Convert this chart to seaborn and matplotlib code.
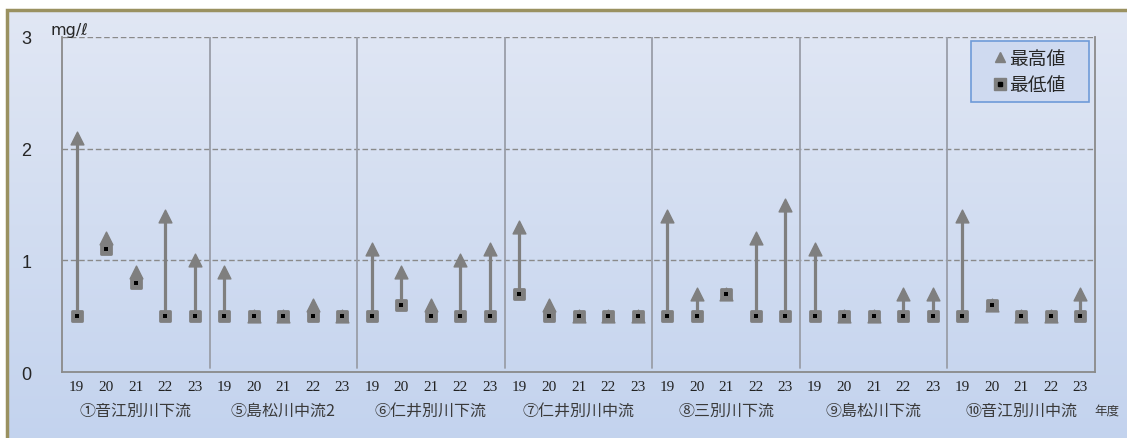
import numpy as np
import pandas as pd
import seaborn as sns
import matplotlib.pyplot as plt
from matplotlib.lines import Line2D
from matplotlib.markers import MarkerStyle
from matplotlib.patches import Rectangle

# data (mg/l)
groups = ['①音江別川下流', '⑤島松川中流2', '⑥仁井別川下流', '⑦仁井別川中流',
          '⑧三別川下流', '⑨島松川下流', '⑩音江別川中流']
years = ['19', '20', '21', '22', '23']
max_vals = [2.1, 1.2, 0.9, 1.4, 1.0,
            0.9, 0.5, 0.5, 0.6, 0.5,
            1.1, 0.9, 0.6, 1.0, 1.1,
            1.3, 0.6, 0.5, 0.5, 0.5,
            1.4, 0.7, 0.7, 1.2, 1.5,
            1.1, 0.5, 0.5, 0.7, 0.7,
            1.4, 0.6, 0.5, 0.5, 0.7]
min_vals = [0.5, 1.1, 0.8, 0.5, 0.5,
            0.5, 0.5, 0.5, 0.5, 0.5,
            0.5, 0.6, 0.5, 0.5, 0.5,
            0.7, 0.5, 0.5, 0.5, 0.5,
            0.5, 0.5, 0.7, 0.5, 0.5,
            0.5, 0.5, 0.5, 0.5, 0.5,
            0.5, 0.6, 0.5, 0.5, 0.5]

df = pd.DataFrame({
    'group': np.repeat(groups, len(years)),
    'year': years * len(groups),
    'max': max_vals,
    'min': min_vals,
})
df['pos'] = np.arange(len(df))

sns.set_style('white')
plt.rcParams['font.family'] = ['Noto Sans CJK JP', 'DejaVu Sans']

W, H = 1127, 439
fig = plt.figure(figsize=(W / 100, H / 100), dpi=100)

# gradient background inside the olive frame
bg = fig.add_axes([0, 0, 1, 1], zorder=-10)
grad = np.linspace(0, 1, 256).reshape(-1, 1)
top_c = np.array([0.882, 0.906, 0.957])
bot_c = np.array([0.765, 0.827, 0.933])
img = top_c + (bot_c - top_c) * grad[..., None]
fx0, fy1 = 7 / W, 1 - 11 / H
bg.imshow(img, extent=[fx0, 1.01, -0.01, fy1], aspect='auto', origin='upper')
bg.set_xlim(0, 1)
bg.set_ylim(0, 1)
bg.axis('off')
bg.add_patch(Rectangle((fx0, -0.05), 1.2, fy1 + 0.05, fill=False,
                       edgecolor='#9a9160', linewidth=2.5))

ax = fig.add_axes([62 / W, 1 - 373 / H, (1095 - 62) / W, (373 - 38) / H])
ax.set_facecolor('none')

grey = '#7f7f7f'
sq = MarkerStyle('s', joinstyle='round')
ax.vlines(df['pos'], df['min'], df['max'], color=grey, linewidth=2.3, zorder=2)
sns.scatterplot(data=df, x='pos', y='min', marker=sq, s=62, color=grey,
                edgecolor=grey, linewidth=2, ax=ax, zorder=3, legend=False)
sns.scatterplot(data=df, x='pos', y='min', marker='s', s=5, color='black',
                edgecolor='black', linewidth=0, ax=ax, zorder=5, legend=False)
sns.scatterplot(data=df, x='pos', y='max', marker='^', s=85, color=grey,
                edgecolor=grey, linewidth=1, ax=ax, zorder=4, legend=False)

ax.set_xlim(-0.5, len(df) - 0.5)
ax.set_ylim(0, 3)
ax.set_yticks([0, 1, 2, 3])
ax.set_yticks([0.5, 1.5, 2.5], minor=True)
ax.set_yticklabels(['0', '1', '2', '3'], fontsize=13, family='Liberation Sans')
ax.tick_params(axis='y', which='both', direction='in', length=5, color='#888888', pad=22)
ax.set_xticks(df['pos'])
ax.set_xticklabels(df['year'], fontsize=11, family='Liberation Serif', color='#222222')
ax.tick_params(axis='x', length=0, pad=6)
ax.set_xlabel('')
ax.set_ylabel('')

for y in [1, 2, 3]:
    ax.axhline(y, color='#8a8a8a', linestyle=(0, (4, 2)), linewidth=1, zorder=1)
for g in range(1, len(groups)):
    ax.axvline(g * len(years) - 0.5, ymin=0.012, ymax=1, color='#9a9ea8',
               linewidth=1.3, zorder=1)

ax.spines['top'].set_visible(False)
for s in ['left', 'bottom', 'right']:
    ax.spines[s].set_color('#8a8a8a')
    ax.spines[s].set_linewidth(1.3)

for i, g in enumerate(groups):
    ax.text(i * len(years) + 2, -0.34, g, ha='center', va='center', fontsize=11.5,
            color='#3a3a3a', transform=ax.transData)
ax.text(0.999, -0.34 / 3, '年度', ha='left', va='center', fontsize=9,
        color='#3a3a3a', transform=ax.transAxes)
fig.text(50 / W, 1 - 31 / H, 'mg/ℓ', fontsize=11.5, ha='left', va='center',
         family='DejaVu Sans')

# legend box drawn separately so it can be wider than the entries
lx0, lx1, ly0, ly1 = 971, 1089, 42, 103
fig.patches.append(Rectangle((lx0 / W, 1 - ly1 / H), (lx1 - lx0) / W, (ly1 - ly0) / H,
                             transform=fig.transFigure, facecolor='#cfdaf0',
                             edgecolor='#6f9bd8', linewidth=1.2, zorder=6))
h_max = Line2D([], [], marker='^', color=grey, linestyle='none', markersize=7)
h_sq = Line2D([], [], marker='s', color=grey, linestyle='none', markersize=8)
h_dot = Line2D([], [], marker='s', color='black', linestyle='none', markersize=2.2)
leg = fig.legend([h_max, (h_sq, h_dot)], ['最高値', '最低値'], loc='center',
                 bbox_to_anchor=((lx0 + lx1) / 2 / W, 1 - (ly0 + ly1) / 2 / H),
                 fontsize=13.5, frameon=False, handlelength=0.6, handletextpad=0.15,
                 borderpad=0, labelspacing=0.3)
leg.set_zorder(7)

fig.savefig('out.png', dpi=100)
